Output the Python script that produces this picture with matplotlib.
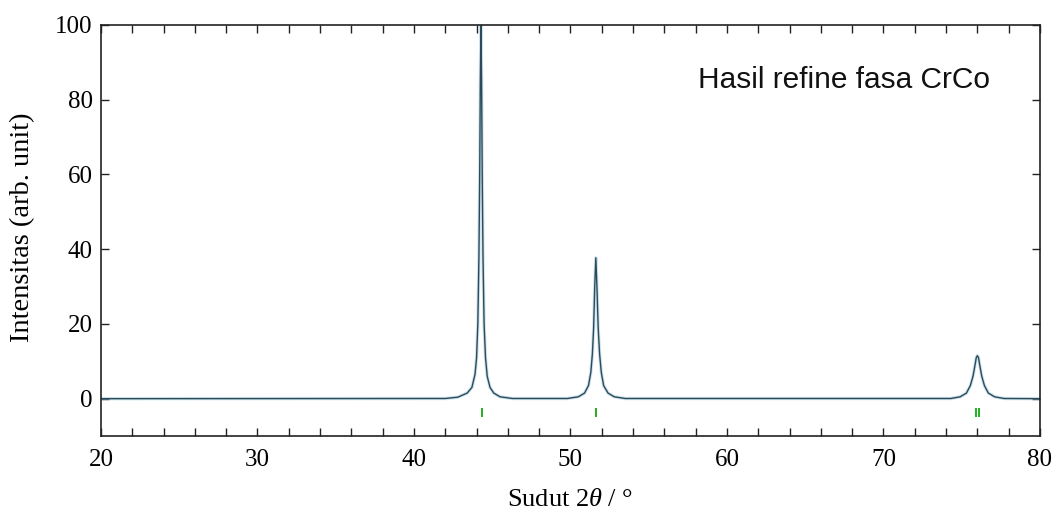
import matplotlib
matplotlib.use("Agg")
import matplotlib.pyplot as plt
from matplotlib.ticker import MultipleLocator

plt.rcParams["mathtext.fontset"] = "custom"
plt.rcParams["mathtext.rm"] = "Liberation Serif"
plt.rcParams["mathtext.it"] = "Liberation Serif:italic"

# Diffraction profile (2theta in degrees, intensity in arb. unit)
peak1_x = [42.0, 42.8, 43.4, 43.7, 43.9, 44.0, 44.08, 44.15, 44.2, 44.24, 44.28,
           44.32, 44.36, 44.41, 44.48, 44.57, 44.68, 44.86, 45.1, 45.5, 46.3]
peak1_y = [0.05, 0.4, 1.5, 3.0, 6.5, 11, 20, 38, 60, 85, 100,
           85, 60, 38, 20, 11, 6, 3, 1.5, 0.5, 0.05]
peak2_x = [49.8, 50.5, 50.9, 51.15, 51.3, 51.4, 51.48, 51.55, 51.62,
           51.69, 51.77, 51.86, 51.97, 52.12, 52.4, 52.8, 53.5]
peak2_y = [0.05, 0.5, 1.5, 3.5, 7, 12, 19, 30, 37.7,
           30, 19, 12, 7, 3.5, 1.5, 0.5, 0.05]
peak3_x = [74.3, 74.9, 75.3, 75.55, 75.72, 75.85, 75.93, 76.0,
           76.07, 76.15, 76.28, 76.45, 76.7, 77.1, 77.7]
peak3_y = [0.05, 0.5, 1.5, 3.5, 6, 9, 11, 11.5,
           11, 9, 6, 3.5, 1.5, 0.5, 0.05]
range_x = [20.0, 80.0]
baseline_y = [0.0, 0.0]

# Bragg reflection markers (CrCo phase)
bragg_pos = [44.32, 51.63, 75.88, 76.12]

x_ticks = [20, 30, 40, 50, 60, 70, 80]
y_ticks = [0, 20, 40, 60, 80, 100]

serif = ["Liberation Serif", "DejaVu Serif"]

fig = plt.figure(figsize=(10.54, 5.13), dpi=100)
ax = fig.add_axes([0.0958, 0.150, 0.8909, 0.8013])

xs = [range_x[0]] + peak1_x + peak2_x + peak3_x + [range_x[1]]
ys = [baseline_y[0]] + peak1_y + peak2_y + peak3_y + [baseline_y[1]]
ax.plot(xs, ys, color="#9cc7dc", lw=2.4, alpha=0.5, solid_joinstyle="round")
ax.plot(xs, ys, color="#2c4a58", lw=1.0)

ax.vlines(bragg_pos, -5.0, -2.6, color="#22b022", lw=1.4)

ax.set_xlim(20, 80)
ax.set_ylim(-10, 100)
ax.set_xticks(x_ticks)
ax.set_yticks(y_ticks)
ax.xaxis.set_minor_locator(MultipleLocator(2))
ax.tick_params(which="both", direction="in", top=True, right=True,
               width=1.0, color="#222222", length=6)
ax.tick_params(axis="x", labelsize=18, pad=9)
ax.tick_params(axis="y", labelsize=18, pad=6)
for lab in ax.get_xticklabels() + ax.get_yticklabels():
    lab.set_fontfamily(serif)
for s in ax.spines.values():
    s.set_linewidth(1.2)
    s.set_color("#222222")

ax.set_ylabel("Intensitas (arb. unit)", fontsize=20.5, family=serif)
ax.yaxis.set_label_coords(-0.070, 0.508)
ax.set_xlabel(r"Sudut 2$\theta$ / °", fontsize=19, family=serif)
ax.xaxis.set_label_coords(0.5, -0.128)

ax.text(0.636, 0.847, "Hasil refine fasa CrCo", transform=ax.transAxes,
        fontsize=21.5, family="Liberation Sans", color="#111111", va="baseline")

fig.savefig("out.png", dpi=100)
